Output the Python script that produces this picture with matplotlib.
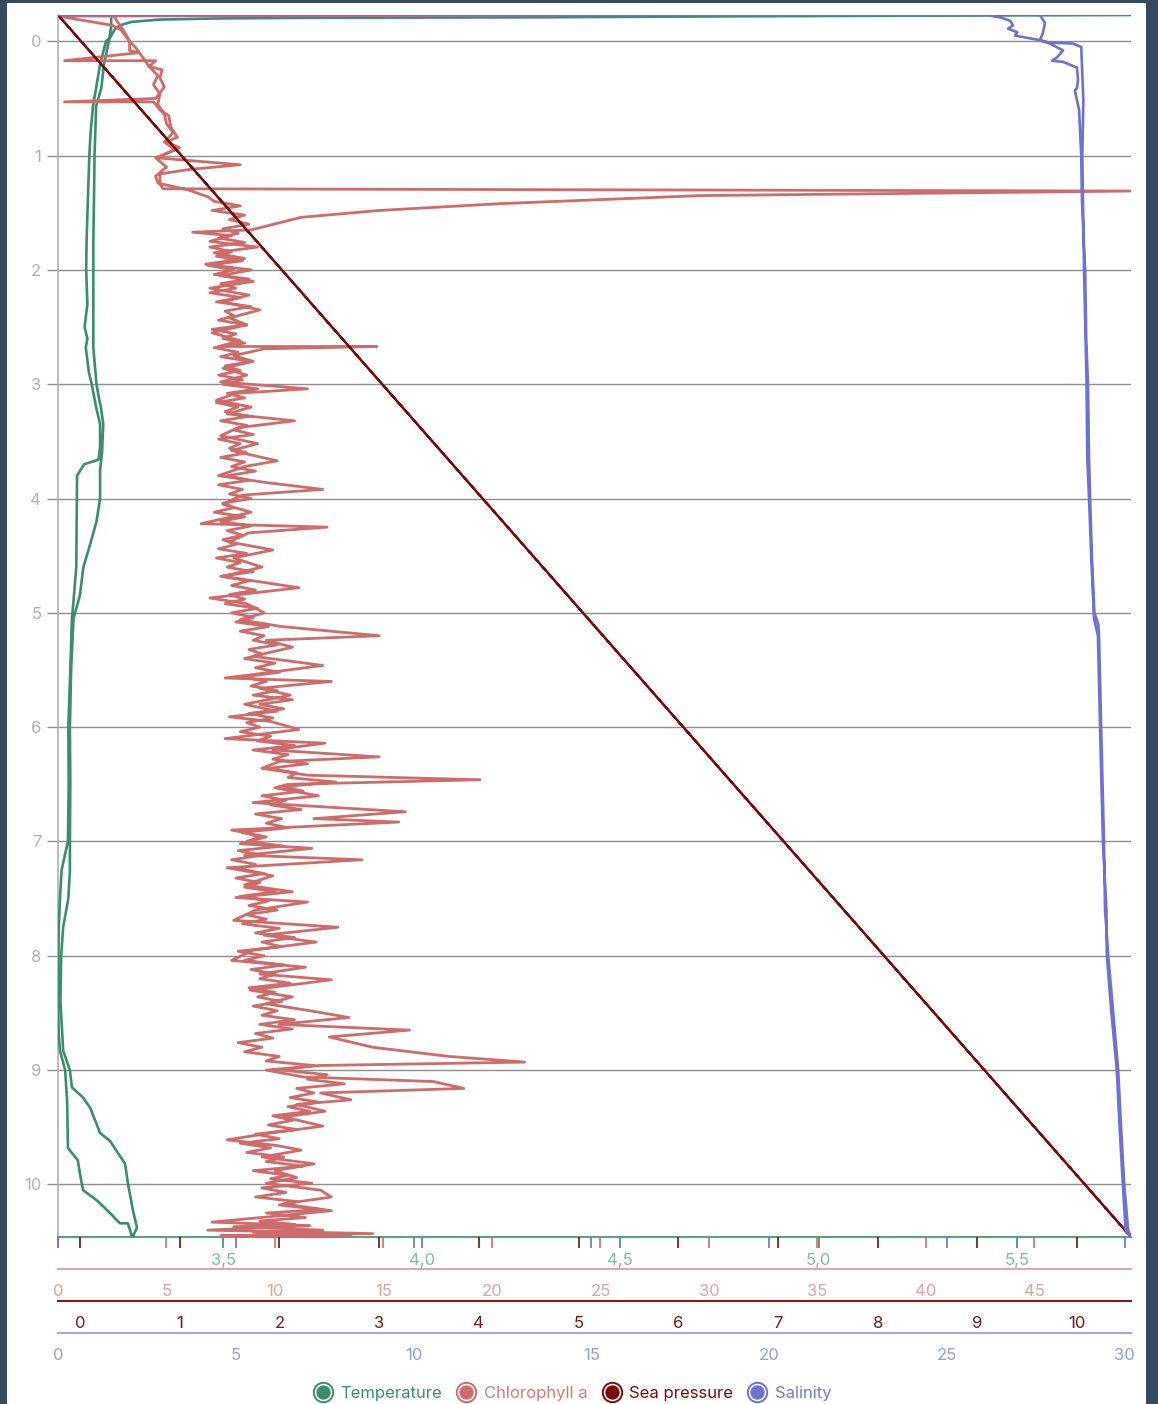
import matplotlib
matplotlib.use('Agg')
import matplotlib.pyplot as plt
from matplotlib.ticker import FixedLocator, FuncFormatter
from matplotlib.lines import Line2D
from matplotlib.legend_handler import HandlerTuple
from matplotlib.patches import Rectangle

plt.rcParams['font.family'] = ['Inter', 'DejaVu Sans']

# ---------------- data (depth, value) ----------------
series_names = ["Temperature", "Chlorophyll a", "Sea pressure", "Salinity"]

depth_ticks = [0, 1, 2, 3, 4, 5, 6, 7, 8, 9, 10]
temp_ticks = [3.5, 4.0, 4.5, 5.0, 5.5]
chl_ticks = [0, 5, 10, 15, 20, 25, 30, 35, 40, 45]
pres_ticks = [0, 1, 2, 3, 4, 5, 6, 7, 8, 9, 10]
sal_ticks = [0, 5, 10, 15, 20, 25, 30]

temperature = [
    (-0.23, 5.787), (-0.22, 4.90), (-0.21, 4.30), (-0.205, 3.70), (-0.20, 3.49),
    (-0.19, 3.34), (-0.17, 3.27), (-0.14, 3.24), (-0.10, 3.226), (-0.03, 3.215),
    (0.00, 3.205), (0.20, 3.19), (0.41, 3.18), (0.57, 3.172), (0.80, 3.166),
    (1.00, 3.163), (1.30, 3.160), (1.75, 3.156), (2.00, 3.155), (2.30, 3.158),
    (2.50, 3.151), (2.60, 3.158), (2.68, 3.154), (2.90, 3.162), (3.00, 3.169),
    (3.20, 3.180), (3.35, 3.190), (3.55, 3.190), (3.66, 3.186), (3.70, 3.150),
    (3.80, 3.132), (4.20, 3.131), (4.60, 3.130), (4.90, 3.123), (5.05, 3.119),
    (5.50, 3.115), (6.00, 3.110), (6.50, 3.111), (7.00, 3.109), (7.25, 3.093),
    (7.50, 3.089), (7.75, 3.086), (8.00, 3.085), (8.40, 3.084), (8.70, 3.086),
    (8.83, 3.089), (9.00, 3.102), (9.27, 3.107), (9.68, 3.109), (9.79, 3.134),
    (9.90, 3.139), (10.05, 3.147), (10.14, 3.182), (10.25, 3.215), (10.34, 3.240),
    (10.34, 3.260), (10.45, 3.270), (10.46, 3.276), (10.45, 3.273), (10.38, 3.283),
    (10.23, 3.273), (9.99, 3.260), (9.82, 3.253), (9.62, 3.215), (9.55, 3.190),
    (9.33, 3.165), (9.24, 3.147), (9.15, 3.119), (9.00, 3.114), (8.83, 3.097),
    (8.70, 3.095), (8.40, 3.090), (8.00, 3.092), (7.75, 3.097), (7.50, 3.110),
    (7.25, 3.114), (7.00, 3.114), (6.50, 3.115), (6.00, 3.114), (5.50, 3.117),
    (5.05, 3.123), (4.85, 3.139), (4.60, 3.148), (4.40, 3.165), (4.20, 3.181),
    (4.00, 3.190), (3.75, 3.190), (3.60, 3.195), (3.35, 3.198), (3.20, 3.192),
    (3.10, 3.186), (3.00, 3.181), (2.68, 3.173), (2.00, 3.173), (1.75, 3.173),
    (1.30, 3.175), (1.00, 3.176), (0.57, 3.180), (0.41, 3.193), (0.20, 3.200),
    (0.00, 3.212), (-0.13, 3.218), (-0.23, 3.218),
]

chlorophyll = [
    # in air / surface
    (-0.23, 23.0), (-0.228, 6.0), (-0.226, 17.0), (-0.224, 9.0), (-0.22, 0.0),
    (-0.14, 2.5), (-0.10, 2.9), (0.00, 3.3), (0.08, 3.3), (0.10, 3.7),
    (0.17, 0.3), (0.17, 4.5), (0.22, 4.2), (0.25, 4.8), (0.32, 4.7),
    (0.40, 4.9), (0.50, 4.5), (0.53, 0.3), (0.53, 4.4), (0.60, 4.7),
    (0.65, 5.1), (0.75, 5.2), (0.84, 5.5), (0.88, 5.0), (0.93, 5.6),
    (0.98, 5.0), (1.02, 4.6), (1.08, 8.4), (1.12, 6.1), (1.16, 4.7),
    (1.25, 4.7), (1.29, 4.84), (1.31, 49.4), (1.35, 29.6), (1.42, 20.4),
    (1.48, 14.8), (1.54, 11.2), (1.65, 8.9), (1.67, 6.2),
    # down cast
    (1.70, 8.0), (1.75, 7.0), (1.80, 9.2), (1.85, 7.2), (1.90, 8.6),
    (1.95, 6.8), (2.00, 8.9), (2.05, 7.5), (2.10, 9.0), (2.16, 7.0),
    (2.22, 8.8), (2.28, 7.6), (2.35, 9.3), (2.42, 7.9), (2.48, 8.7),
    (2.55, 7.1), (2.62, 8.4), (2.67, 7.4), (2.67, 14.7), (2.69, 9.5),
    (2.75, 8.1), (2.80, 9.0), (2.86, 7.6), (2.92, 8.7), (2.98, 7.5),
    (3.04, 11.5), (3.08, 8.2), (3.14, 7.3), (3.20, 8.9), (3.26, 7.8),
    (3.32, 10.9), (3.38, 8.3), (3.45, 7.5), (3.52, 9.2), (3.58, 8.0),
    (3.67, 10.1), (3.72, 8.6), (3.80, 7.4), (3.86, 9.6), (3.92, 12.2),
    (3.97, 8.5), (4.05, 7.6), (4.12, 8.9), (4.22, 6.6), (4.25, 12.4),
    (4.30, 8.8), (4.38, 7.9), (4.45, 9.9), (4.52, 8.1), (4.60, 9.4),
    (4.68, 7.6), (4.78, 11.1), (4.87, 7.0), (4.92, 8.7), (5.00, 9.5),
    (5.06, 8.4), (5.12, 10.3), (5.20, 14.8), (5.24, 9.6), (5.30, 10.8),
    (5.38, 9.0), (5.46, 12.2), (5.52, 9.8), (5.57, 7.7), (5.60, 12.6),
    (5.66, 9.3), (5.72, 10.7), (5.80, 8.6), (5.86, 10.1), (5.91, 7.9),
    (5.95, 9.8), (6.02, 11.1), (6.10, 7.7), (6.14, 12.3), (6.20, 9.9),
    (6.26, 14.8), (6.30, 10.2), (6.36, 9.4), (6.42, 11.5), (6.46, 19.45),
    (6.50, 10.6), (6.53, 10.0), (6.60, 12.0), (6.66, 9.0), (6.74, 16.0),
    (6.80, 11.8), (6.83, 15.7), (6.90, 8.0), (6.96, 9.6), (7.02, 8.4),
    (7.06, 11.7), (7.12, 8.6), (7.16, 14.0), (7.23, 7.8), (7.30, 9.9),
    (7.38, 8.6), (7.44, 10.8), (7.49, 8.2), (7.53, 11.5), (7.60, 9.1),
    (7.69, 8.1), (7.75, 12.9), (7.82, 9.5), (7.88, 11.9), (7.95, 9.0),
    (8.04, 8.0), (8.10, 11.4), (8.16, 9.3), (8.21, 12.6), (8.30, 8.85),
    (8.36, 10.8), (8.42, 9.6), (8.48, 11.6), (8.54, 13.4), (8.60, 10.2),
    (8.65, 16.2), (8.71, 12.5), (8.80, 14.5), (8.88, 18.0), (8.93, 21.5),
    (8.96, 12.0), (9.00, 9.6), (9.06, 11.3), (9.10, 17.3), (9.16, 18.7),
    (9.20, 12.1), (9.26, 13.5), (9.30, 11.0), (9.36, 12.3), (9.41, 10.4),
    (9.49, 12.2), (9.55, 9.8), (9.61, 7.8), (9.66, 10.1), (9.70, 11.2),
    (9.76, 9.4), (9.82, 11.8), (9.88, 10.0), (9.94, 11.0), (9.99, 9.6),
    (10.05, 12.1), (10.11, 12.6), (10.17, 10.4), (10.23, 12.6), (10.28, 9.9),
    (10.33, 7.1), (10.36, 11.6), (10.40, 6.9), (10.43, 14.5), (10.45, 7.5),
    (10.46, 11.0),
    # up cast
    (10.44, 13.5), (10.42, 9.0), (10.40, 12.2), (10.37, 8.1), (10.35, 10.9),
    (10.32, 9.3), (10.29, 11.4), (10.25, 9.6), (10.22, 12.1), (10.18, 10.2),
    (10.15, 11.0), (10.11, 9.1), (10.07, 10.5), (10.03, 9.4), (9.99, 11.7),
    (9.95, 9.8), (9.92, 10.6), (9.88, 9.0), (9.84, 11.3), (9.80, 9.6),
    (9.76, 10.4), (9.72, 8.7), (9.68, 9.8), (9.64, 8.4), (9.60, 10.2),
    (9.56, 9.1), (9.52, 11.0), (9.48, 9.7), (9.44, 10.8), (9.40, 9.9),
    (9.36, 11.6), (9.32, 10.6), (9.28, 12.0), (9.24, 10.7), (9.20, 11.8),
    (9.16, 11.0), (9.12, 13.2), (9.08, 11.5), (9.04, 12.4), (9.00, 10.3),
    (8.96, 11.8), (8.92, 9.6), (8.88, 10.2), (8.84, 8.6), (8.80, 9.4),
    (8.76, 8.3), (8.72, 9.9), (8.68, 9.1), (8.64, 10.8), (8.60, 9.3),
    (8.56, 10.9), (8.52, 9.4), (8.48, 10.1), (8.44, 9.0), (8.40, 10.3),
    (8.36, 9.2), (8.32, 10.0), (8.28, 8.8), (8.24, 10.7), (8.20, 9.3),
    (8.16, 10.0), (8.12, 8.9), (8.08, 10.4), (8.04, 8.6), (8.00, 9.5),
    (7.96, 8.3), (7.92, 10.3), (7.88, 9.4), (7.84, 10.9), (7.80, 9.1),
    (7.76, 10.2), (7.72, 8.5), (7.68, 9.6), (7.64, 8.7), (7.60, 10.1),
    (7.56, 8.8), (7.52, 9.7), (7.48, 8.4), (7.44, 10.0), (7.40, 8.6),
    (7.36, 9.3), (7.32, 8.2), (7.28, 9.5), (7.24, 8.4), (7.20, 9.1),
    (7.16, 8.0), (7.12, 9.4), (7.08, 8.3), (7.04, 10.4), (7.00, 8.7),
    (6.96, 9.3), (6.92, 8.5), (6.88, 10.6), (6.84, 9.6), (6.80, 10.3),
    (6.76, 9.1), (6.72, 11.2), (6.68, 9.8), (6.64, 10.5), (6.60, 9.4),
    (6.56, 11.3), (6.52, 10.4), (6.48, 12.8), (6.44, 10.6), (6.40, 11.0),
    (6.36, 9.7), (6.32, 11.5), (6.28, 9.9), (6.24, 10.6), (6.20, 9.0),
    (6.16, 10.9), (6.12, 9.2), (6.08, 9.8), (6.04, 8.4), (6.00, 9.3),
    (5.96, 8.7), (5.92, 9.9), (5.88, 8.8), (5.84, 10.4), (5.80, 9.3),
    (5.76, 10.8), (5.72, 9.0), (5.68, 10.1), (5.64, 8.9), (5.60, 9.6),
    (5.56, 8.5), (5.52, 10.2), (5.48, 9.1), (5.44, 10.0), (5.40, 8.6),
    (5.36, 9.4), (5.32, 8.8), (5.28, 10.1), (5.24, 9.0), (5.20, 9.5),
    (5.16, 8.4), (5.12, 9.7), (5.08, 8.2), (5.04, 9.0), (5.00, 8.0),
    (4.96, 9.2), (4.92, 7.7), (4.88, 8.6), (4.84, 7.9), (4.80, 9.1),
    (4.76, 8.0), (4.72, 8.8), (4.68, 7.5), (4.64, 9.0), (4.60, 7.8),
    (4.56, 8.4), (4.52, 7.3), (4.48, 8.7), (4.44, 7.4), (4.40, 8.2),
    (4.36, 7.6), (4.32, 8.5), (4.28, 7.8), (4.24, 8.9), (4.20, 7.5),
    (4.16, 8.6), (4.12, 7.2), (4.08, 8.1), (4.04, 7.6), (4.00, 8.9),
    (3.96, 7.9), (3.92, 8.5), (3.88, 7.4), (3.84, 8.8), (3.80, 7.8),
    (3.76, 9.1), (3.72, 8.0), (3.68, 8.6), (3.64, 7.5), (3.60, 8.7),
    (3.56, 7.9), (3.52, 8.4), (3.48, 7.4), (3.44, 9.0), (3.40, 8.1),
    (3.36, 8.7), (3.32, 7.5), (3.28, 8.8), (3.24, 7.7), (3.20, 8.3),
    (3.16, 7.3), (3.12, 8.6), (3.08, 7.8), (3.04, 9.2), (3.00, 7.6),
    (2.96, 8.5), (2.92, 7.4), (2.88, 8.4), (2.84, 7.7), (2.80, 8.9),
    (2.76, 7.5), (2.72, 8.3), (2.68, 7.2), (2.64, 8.6), (2.60, 7.6),
    (2.56, 8.2), (2.52, 7.1), (2.48, 8.7), (2.44, 7.4), (2.40, 8.1),
    (2.36, 7.7), (2.32, 8.9), (2.28, 7.3), (2.24, 8.4), (2.20, 7.0),
    (2.16, 8.2), (2.12, 7.5), (2.08, 8.8), (2.04, 7.2), (2.00, 8.1),
    (1.96, 6.9), (1.92, 8.5), (1.88, 7.3), (1.84, 8.0), (1.80, 7.0),
    (1.76, 8.6), (1.72, 7.4), (1.68, 8.3), (1.64, 7.6), (1.60, 8.8),
    (1.56, 7.9), (1.52, 8.6), (1.48, 7.1), (1.44, 8.4), (1.40, 7.2),
    (1.36, 6.9), (1.30, 6.0), (1.24, 4.6), (1.18, 4.5), (1.10, 5.0),
    (1.02, 4.5), (0.95, 5.4), (0.88, 4.9), (0.80, 5.3), (0.72, 5.0),
    (0.64, 4.9), (0.55, 4.6), (0.46, 4.7), (0.38, 4.4), (0.30, 4.6),
    (0.22, 4.2), (0.14, 3.9), (0.06, 3.6), (0.00, 3.3), (-0.10, 3.0),
    (-0.21, 2.6), (-0.23, 2.6),
]

sea_pressure = [(-0.23, -0.22), (10.46, 10.54), (-0.23, -0.22)]

salinity = [
    (-0.23, 0.0), (-0.23, 26.1), (-0.21, 26.5), (-0.18, 26.78), (-0.14, 26.86),
    (-0.11, 26.72), (-0.08, 26.98), (-0.05, 26.92), (-0.03, 27.26), (-0.01, 27.62),
    (0.02, 27.90), (0.08, 28.27), (0.14, 28.10), (0.17, 27.96), (0.18, 28.27),
    (0.23, 28.66), (0.34, 28.69), (0.41, 28.66), (0.43, 28.60), (0.60, 28.72),
    (1.00, 28.78), (1.39, 28.80), (2.00, 28.89), (2.60, 28.92), (3.00, 28.97),
    (3.65, 29.00), (4.00, 29.03), (4.50, 29.08), (5.00, 29.15), (5.10, 29.26),
    (5.20, 29.28), (6.00, 29.34), (7.00, 29.42), (7.60, 29.45), (8.00, 29.54),
    (8.50, 29.68), (9.00, 29.82), (9.50, 29.90), (10.00, 29.99), (10.40, 30.10),
    (10.46, 30.18), (10.40, 30.03), (10.00, 29.95), (9.50, 29.86), (9.00, 29.78),
    (8.50, 29.63), (8.00, 29.50), (7.60, 29.49), (7.30, 29.44), (7.00, 29.39),
    (6.00, 29.31), (5.20, 29.25), (5.05, 29.14), (4.50, 29.06), (4.00, 29.00),
    (3.65, 28.95), (3.00, 28.93), (2.00, 28.86), (1.00, 28.81), (0.52, 28.84),
    (0.05, 28.78), (0.02, 28.55), (0.01, 27.85), (-0.01, 27.62), (-0.07, 27.70),
    (-0.16, 27.76), (-0.23, 27.62),
]

depth_range = (-0.23, 10.46)
temp_range = (3.084, 5.787)
chl_range = (0.0, 49.45)
pres_range = (-0.22, 10.54)
sal_range = (0.0, 30.18)

# ---------------- styling ----------------
C_TEMP, C_CHL, C_PRES, C_SAL = '#3d8c6e', '#cc6c6c', '#7a0b0b', '#7070d0'
L_TEMP, L_CHL, L_PRES, L_SAL = '#84b9a4', '#d9a4a4', '#6e1c1c', '#9c9cdc'
SP_CHL, SP_PRES, SP_SAL = '#d8aaaa', '#7a1e1e', '#a8a8dc'

W, H = 1158, 1404
fig = plt.figure(figsize=(W / 100, H / 100), dpi=100, facecolor='#35495f')
fig.patches.append(Rectangle((7 / W, 0), (1146 - 7) / W, (H - 3) / H,
                             transform=fig.transFigure, facecolor='white',
                             edgecolor='none', zorder=-5))

Lp, Rp, Tp, Bp = 58, 1131, 15, 1237
ax = fig.add_axes([Lp / W, 1 - Bp / H, (Rp - Lp) / W, (Bp - Tp) / H])
ax.set_facecolor('none')
ax.set_ylim(depth_range[1], depth_range[0])
ax.set_xlim(*temp_range)
ax.yaxis.set_major_locator(FixedLocator(depth_ticks))
ax.grid(axis='y', color='#8e8e8e', lw=1.0)
ax.set_axisbelow(True)
ax.tick_params(axis='y', length=8, width=1.0, color='#8e8e8e',
               labelcolor='#b2b2b2', labelsize=12, pad=4)
for s in ['top', 'right']:
    ax.spines[s].set_visible(False)
ax.spines['left'].set_color('#b0b0b0')
ax.spines['left'].set_linewidth(1.2)
ax.spines['bottom'].set_color('#5f9f86')
ax.spines['bottom'].set_linewidth(1.5)
ax.xaxis.set_major_locator(FixedLocator(temp_ticks))
ax.xaxis.set_major_formatter(FuncFormatter(lambda v, _: f"{v:.1f}".replace('.', ',')))
ax.tick_params(axis='x', length=8, width=1.2, color=C_TEMP, labelcolor=L_TEMP,
               labelsize=12, pad=3.7)

ax.plot([v for d, v in temperature], [d for d, v in temperature],
        color=C_TEMP, lw=1.9, zorder=3)


def twin(xlim, ticks, color, label_color, spine_color, offset_px, data, lw):
    a = ax.twiny()
    a.set_xlim(*xlim)
    a.set_ylim(depth_range[1], depth_range[0])
    a.xaxis.set_major_locator(FixedLocator(ticks))
    a.xaxis.set_ticks_position('bottom')
    a.tick_params(axis='x', top=False, bottom=True, labelbottom=False,
                  labeltop=False, length=8, width=1.2, color=color)
    for s in a.spines.values():
        s.set_visible(False)
    a.plot([v for d, v in data], [d for d, v in data], color=color, lw=lw)
    sec = a.secondary_xaxis(-offset_px / (Bp - Tp))
    sec.xaxis.set_major_locator(FixedLocator(ticks))
    sec.tick_params(axis='x', length=0, pad=10.6, labelcolor=label_color, labelsize=12)
    sec.spines['bottom'].set_color(spine_color)
    sec.spines['bottom'].set_linewidth(1.5)
    return a


twin(chl_range, chl_ticks, C_CHL, L_CHL, SP_CHL, 32, chlorophyll, 2.0)
twin(pres_range, pres_ticks, C_PRES, L_PRES, SP_PRES, 64, sea_pressure, 1.6)
twin(sal_range, sal_ticks, C_SAL, L_SAL, SP_SAL, 96, salinity, 1.9)

# ---------------- legend ----------------
handles = []
for c in [C_TEMP, C_CHL, C_PRES, C_SAL]:
    outer = Line2D([], [], ls='none', marker='o', ms=14, mfc='white', mec=c, mew=1.4)
    inner = Line2D([], [], ls='none', marker='o', ms=9.5, mfc=c, mec=c, mew=0.8)
    handles.append((outer, inner))
leg = fig.legend(handles, series_names,
                 handler_map={tuple: HandlerTuple(ndivide=1, pad=0)},
                 loc='center', bbox_to_anchor=(0.494, 0.0075), ncol=4,
                 frameon=False, fontsize=12, handletextpad=0.45,
                 columnspacing=0.85, handlelength=1.2, borderpad=0.1)
for t, c in zip(leg.get_texts(), [C_TEMP, '#d07c7c', C_PRES, '#7a7ad6']):
    t.set_color(c)

fig.savefig('out.png', dpi=100, facecolor=fig.get_facecolor())
